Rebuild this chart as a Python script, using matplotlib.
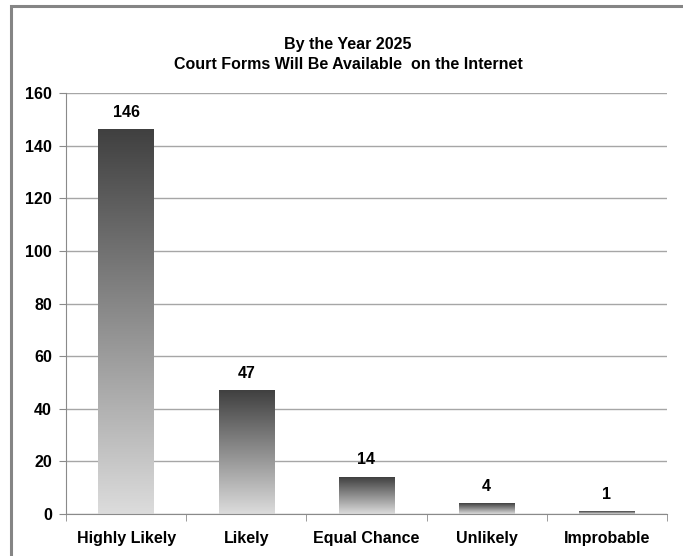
import numpy as np
import matplotlib
matplotlib.use("Agg")
import matplotlib.pyplot as plt
from matplotlib import patches

categories = ["Highly Likely", "Likely", "Equal Chance", "Unlikely", "Improbable"]
counts = [146, 47, 14, 4, 1]
y_ticks = [0, 20, 40, 60, 80, 100, 120, 140, 160]
title_lines = ["By the Year 2025", "Court Forms Will Be Available  on the Internet"]

plt.rcParams['font.family'] = ['Liberation Sans', 'DejaVu Sans']

fig = plt.figure(figsize=(6.83, 5.56), dpi=100)
ax = fig.add_axes([66 / 683, 42 / 556, 601 / 683, 421 / 556])

# outer chart frame (only left/top visible in the crop)
frame = patches.Rectangle((11 / 683, -0.2), 1.2, 1.2 - 6 / 556, transform=fig.transFigure,
                          fill=False, edgecolor='#858585', linewidth=2.2)
fig.patches.append(frame)

bar_w = 0.46
grad = np.linspace(0, 1, 256).reshape(-1, 1)
cmap = matplotlib.colors.LinearSegmentedColormap.from_list("g", ["#dcdcdc", "#404040"])
for i, v in enumerate(counts):
    ax.imshow(grad, cmap=cmap, origin='lower', aspect='auto',
              extent=(i - bar_w / 2, i + bar_w / 2, 0, v), zorder=3)
    ax.annotate(str(v), (i, v), xytext=(0, 7), textcoords='offset points',
                ha='center', va='bottom', fontsize=11.5, fontweight='bold')

ax.set_xlim(-0.5, len(categories) - 0.5)
ax.set_ylim(0, 160)
ax.set_yticks(y_ticks)
ax.set_yticklabels([str(t) for t in y_ticks], fontsize=11.5, fontweight='bold')
ax.set_xticks(range(len(categories)))
ax.set_xticklabels(categories, fontsize=11.5, fontweight='bold')
ax.set_xticks(np.arange(-0.5, len(categories), 1.0), minor=True)
ax.tick_params(axis='x', which='major', length=0, pad=12)
ax.tick_params(axis='x', which='minor', length=5, color='#8a8a8a', direction='out')
ax.tick_params(axis='y', length=5, color='#8a8a8a', direction='out', pad=5)

ax.grid(axis='y', color='#a6a6a6', linewidth=1.0, zorder=0)
ax.set_axisbelow(True)
for s in ['top', 'right']:
    ax.spines[s].set_visible(False)
for s in ['left', 'bottom']:
    ax.spines[s].set_color('#8a8a8a')
    ax.spines[s].set_zorder(4)

fig.text(348 / 683, 1 - 45 / 556, title_lines[0], ha='center', va='center', fontsize=11.5, fontweight='bold')
fig.text(348 / 683, 1 - 65 / 556, title_lines[1], ha='center', va='center', fontsize=11.5, fontweight='bold')

fig.savefig("out.png", dpi=100)
